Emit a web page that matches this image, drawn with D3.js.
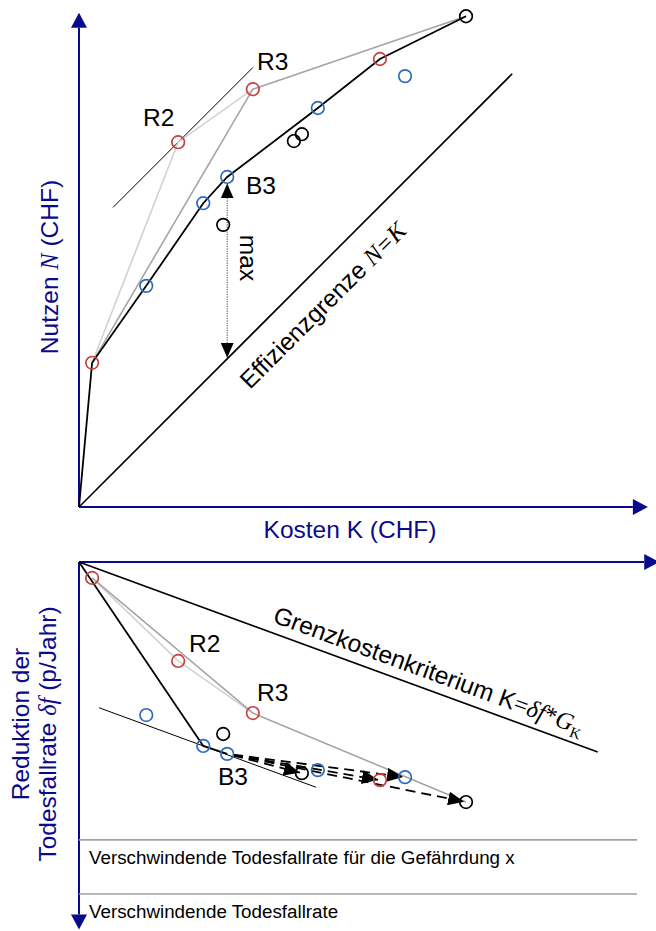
<!DOCTYPE html>
<html>
<head>
<meta charset="utf-8">
<script src="https://cdn.jsdelivr.net/npm/d3@7"></script>
<style>
  body { margin: 0; background: #fff; }
  svg { display: block; }
</style>
</head>
<body>
<svg id="chart" width="656" height="931"></svg>
<script>
// Measures: cost K, benefit N (upper panel), reduction of death rate δf (lower panel,
// as a share of the vanishing rate), and group (R = red, B = blue, K = black)
const measureIds       = ["A", "B", "R2", "C", "D", "B3", "R3", "E", "F", "G", "H", "I", "J"];
const measureCost      = [2.3, 11.8, 17.4, 21.8, 25.3, 26.0, 30.5, 37.7, 39.1, 41.9, 52.8, 57.2, 67.9];
const measureBenefit   = [25.3, 38.8, 64.0, 53.3, 49.5, 57.9, 73.3, 64.2, 65.4, 70.0, 78.6, 75.6, 86.1];
const measureReduction = [0.048, 0.461, 0.298, 0.554, 0.518, 0.578, 0.455, null, 0.636, 0.627, 0.657, 0.648, 0.723];
const measureGroup     = ["R", "B", "R", "B", "K", "B", "R", "K", "K", "B", "R", "B", "K"];

// Paths through the measures
const topFrontier      = ["O", "A", "B", "C", "B3", "G", "H", "J"];
const topLightPath     = ["A", "R2", "R3"];
const topDarkPath      = ["A", "R3", "J"];
const bottomFrontier   = ["O", "C", "B3"];
const bottomLightPath  = ["A", "R2", "R3"];
const bottomDarkPath   = ["A", "R3", "J"];
const shiftFrom        = "B3";
const shiftTargets     = ["F", "H", "I", "J"];

// Reference lines
const efficiencyEnd    = 76;     // N = K drawn up to this cost
const marginalCostGK   = 159;    // G_K: K = δf * G_K
const marginalEnd      = 91;
const hazardVanishing  = 0.837;  // vanishing rate for hazard x
const totalVanishing   = 1.0;    // vanishing rate overall

const svg = d3.select("#chart");
const SANS = "'Liberation Sans', Arial, sans-serif";
const SERIF = "'Liberation Serif', 'Times New Roman', serif";
const NAVY = "#0A0A8C";
const RED = "#C9403E";
const BLUE = "#2E6BBE";
const LIGHT = "#d2d2d2";
const DARK = "#a5a5a5";
const FS = 24.5;
const colorOf = { R: RED, B: BLUE, K: "#000" };

const measures = measureIds.map((id, i) => ({
  id, K: measureCost[i], N: measureBenefit[i], df: measureReduction[i], g: measureGroup[i]
}));
const byId = Object.fromEntries(measures.map(m => [m.id, m]));
byId.O = { id: "O", K: 0, N: 0, df: 0 };

// Scales (same pixels per unit for K and N so that N = K is at 45°)
const x = d3.scaleLinear().domain([0, 100]).range([79, 649]);
const yTop = d3.scaleLinear().domain([0, 100]).range([507, -63]);
const yBot = d3.scaleLinear().domain([0, 1]).range([562, 894]);

const defs = svg.append("defs");
function marker(id, len, half) {
  defs.append("marker")
    .attr("id", id)
    .attr("markerUnits", "userSpaceOnUse")
    .attr("viewBox", `0 ${-half} ${len} ${2 * half}`)
    .attr("refX", len).attr("refY", 0)
    .attr("markerWidth", len).attr("markerHeight", 2 * half)
    .attr("orient", "auto-start-reverse")
    .append("path")
    .attr("d", `M0,${-half}L${len},0L0,${half}Z`)
    .attr("fill", "#000");
}
marker("tip", 15, 6.5);
marker("tipS", 16, 7);

// ---------- axes ----------
function axisArrow(g, x1, y1, x2, y2, len, half) {
  const a = Math.atan2(y2 - y1, x2 - x1);
  const bx = x2 - len * Math.cos(a), by = y2 - len * Math.sin(a);
  g.append("line").attr("x1", x1).attr("y1", y1).attr("x2", bx).attr("y2", by)
    .attr("stroke", NAVY).attr("stroke-width", 2);
  g.append("path")
    .attr("d", `M${x2},${y2}L${bx - half * Math.sin(a)},${by + half * Math.cos(a)}L${bx + half * Math.sin(a)},${by - half * Math.cos(a)}Z`)
    .attr("fill", NAVY);
}
const axes = svg.append("g");
axisArrow(axes, x(0), yTop(0), x(0), yTop(86.7), 15, 8);
axisArrow(axes, x(0), yTop(0), x(99.8), yTop(0), 15, 8);
axisArrow(axes, x(0), yBot(0), x(101.8), yBot(0), 15, 8);
axisArrow(axes, x(0), yBot(0), x(0), yBot(1.107), 15, 8);

// ---------- upper panel ----------
const lineTop = d3.line().x(d => x(byId[d].K)).y(d => yTop(byId[d].N));
const upper = svg.append("g");

// efficiency limit N = K
upper.append("line")
  .attr("x1", x(0)).attr("y1", yTop(0))
  .attr("x2", x(efficiencyEnd)).attr("y2", yTop(efficiencyEnd))
  .attr("stroke", "#000").attr("stroke-width", 1.6);

// tangent through R2 parallel to N = K
const r2 = byId.R2;
upper.append("line")
  .attr("x1", x(5.96)).attr("y1", yTop(r2.N + (5.96 - r2.K)))
  .attr("x2", x(30.5)).attr("y2", yTop(r2.N + (30.5 - r2.K)))
  .attr("stroke", "#000").attr("stroke-width", 1);

upper.append("path").attr("d", lineTop(topLightPath)).attr("fill", "none").attr("stroke", LIGHT).attr("stroke-width", 1.6);
upper.append("path").attr("d", lineTop(topDarkPath)).attr("fill", "none").attr("stroke", DARK).attr("stroke-width", 1.6);
upper.append("path").attr("d", lineTop(topFrontier)).attr("fill", "none").attr("stroke", "#000").attr("stroke-width", 1.8);

// "max" distance between B3 and the efficiency limit
const b3 = byId.B3;
upper.append("line")
  .attr("x1", x(b3.K)).attr("y1", yTop(b3.N) + 6.5)
  .attr("x2", x(b3.K)).attr("y2", yTop(b3.K) - 1)
  .attr("stroke", "#444").attr("stroke-width", 1)
  .attr("stroke-dasharray", "1.2,1.2")
  .attr("marker-start", "url(#tip)")
  .attr("marker-end", "url(#tip)");

upper.selectAll("circle.m").data(measures).join("circle")
  .attr("class", "m")
  .attr("cx", d => x(d.K)).attr("cy", d => yTop(d.N)).attr("r", 6.3)
  .attr("fill", "none").attr("stroke", d => colorOf[d.g]).attr("stroke-width", 1.7);

upper.append("text").attr("x", 143).attr("y", 126).attr("font-family", SANS).attr("font-size", FS).text("R2");
upper.append("text").attr("x", 257).attr("y", 70).attr("font-family", SANS).attr("font-size", FS).text("R3");
upper.append("text").attr("x", 246).attr("y", 194).attr("font-family", SANS).attr("font-size", FS).text("B3");

upper.append("text")
  .attr("transform", "translate(240,258) rotate(90)")
  .attr("text-anchor", "middle")
  .attr("font-family", SANS).attr("font-size", FS).text("max");

const eff = upper.append("text")
  .attr("transform", "translate(250,390) rotate(-45)")
  .attr("font-family", SANS).attr("font-size", FS);
eff.append("tspan").text("Effizienzgrenze ");
eff.append("tspan").attr("font-family", SERIF).attr("font-style", "italic").text("N=K");

upper.append("text").attr("x", 350).attr("y", 538).attr("text-anchor", "middle")
  .attr("font-family", SANS).attr("font-size", FS).attr("fill", NAVY)
  .text("Kosten K (CHF)");

const yl = upper.append("text")
  .attr("transform", "translate(58,267) rotate(-90)")
  .attr("text-anchor", "middle")
  .attr("font-family", SANS).attr("font-size", FS).attr("fill", NAVY);
yl.append("tspan").text("Nutzen ");
yl.append("tspan").attr("font-family", SERIF).attr("font-style", "italic").text("N");
yl.append("tspan").text(" (CHF)");

// ---------- lower panel ----------
const lineBot = d3.line().x(d => x(byId[d].K)).y(d => yBot(byId[d].df));
const lower = svg.append("g");

// vanishing rates
[hazardVanishing, totalVanishing].forEach(v => {
  lower.append("line")
    .attr("x1", x(0)).attr("x2", x(97.9))
    .attr("y1", yBot(v)).attr("y2", yBot(v))
    .attr("stroke", "#a0a0a0").attr("stroke-width", 1.6);
});
lower.append("text").attr("x", 89).attr("y", yBot(hazardVanishing) + 24)
  .attr("font-family", SANS).attr("font-size", 18.8)
  .text("Verschwindende Todesfallrate für die Gefährdung x");
lower.append("text").attr("x", 89).attr("y", yBot(totalVanishing) + 24)
  .attr("font-family", SANS).attr("font-size", 18.8)
  .text("Verschwindende Todesfallrate");

// marginal cost criterion K = δf * G_K
lower.append("line")
  .attr("x1", x(0)).attr("y1", yBot(0))
  .attr("x2", x(marginalEnd)).attr("y2", yBot(marginalEnd / marginalCostGK))
  .attr("stroke", "#000").attr("stroke-width", 1.6);

// tangent through C parallel to the criterion
const c = byId.C;
const tan = k => c.df + (k - c.K) / marginalCostGK;
lower.append("line")
  .attr("x1", x(3.5)).attr("y1", yBot(tan(3.5)))
  .attr("x2", x(41.6)).attr("y2", yBot(tan(41.6)))
  .attr("stroke", "#000").attr("stroke-width", 1);

lower.append("path").attr("d", lineBot(bottomLightPath)).attr("fill", "none").attr("stroke", LIGHT).attr("stroke-width", 1.6);
lower.append("path").attr("d", lineBot(bottomDarkPath)).attr("fill", "none").attr("stroke", DARK).attr("stroke-width", 1.6);
lower.append("path").attr("d", lineBot(bottomFrontier)).attr("fill", "none").attr("stroke", "#000").attr("stroke-width", 1.8);

// shifts of B3 towards later measures
const from = byId[shiftFrom];
shiftTargets.forEach(t => {
  const to = byId[t];
  const x1 = x(from.K), y1 = yBot(from.df), x2 = x(to.K), y2 = yBot(to.df);
  const L = Math.hypot(x2 - x1, y2 - y1);
  const ux = (x2 - x1) / L, uy = (y2 - y1) / L;
  lower.append("line")
    .attr("x1", x1 + ux * 6).attr("y1", y1 + uy * 6)
    .attr("x2", x2 - ux * 2).attr("y2", y2 - uy * 2)
    .attr("stroke", "#000").attr("stroke-width", 1.8)
    .attr("stroke-dasharray", "10,6")
    .attr("marker-end", "url(#tipS)");
});

lower.selectAll("circle.m").data(measures.filter(d => d.df != null)).join("circle")
  .attr("class", "m")
  .attr("cx", d => x(d.K)).attr("cy", d => yBot(d.df)).attr("r", 6.3)
  .attr("fill", "none").attr("stroke", d => colorOf[d.g]).attr("stroke-width", 1.7);

lower.append("text").attr("x", 189).attr("y", 652).attr("font-family", SANS).attr("font-size", FS).text("R2");
lower.append("text").attr("x", 257).attr("y", 701).attr("font-family", SANS).attr("font-size", FS).text("R3");
lower.append("text").attr("x", 218).attr("y", 785).attr("font-family", SANS).attr("font-size", FS).text("B3");

// criterion label along its line
const ang = Math.atan2(yBot(marginalEnd / marginalCostGK) - yBot(0), x(marginalEnd) - x(0));
const k0 = 33.2;
const px0 = x(k0) + 10 * Math.sin(ang), py0 = yBot(k0 / marginalCostGK) - 10 * Math.cos(ang);
const gk = lower.append("text")
  .attr("transform", `translate(${px0},${py0}) rotate(${ang * 180 / Math.PI})`)
  .attr("font-family", SANS).attr("font-size", FS);
gk.append("tspan").text("Grenzkostenkriterium K");
gk.append("tspan").attr("font-family", SERIF).text("=");
gk.append("tspan").attr("font-family", SERIF).attr("font-style", "italic").text("δf");
gk.append("tspan").attr("font-family", SERIF).text("*");
gk.append("tspan").attr("font-family", SERIF).attr("font-style", "italic").text("G");
gk.append("tspan").attr("font-family", SERIF).attr("font-size", 15).attr("dy", 5).text("K");

lower.append("text")
  .attr("transform", "translate(29,724) rotate(-90)")
  .attr("text-anchor", "middle")
  .attr("font-family", SANS).attr("font-size", FS).attr("fill", NAVY)
  .text("Reduktion der");
const yb2 = lower.append("text")
  .attr("transform", "translate(56,734) rotate(-90)")
  .attr("text-anchor", "middle")
  .attr("font-family", SANS).attr("font-size", FS).attr("fill", NAVY);
yb2.append("tspan").text("Todesfallrate ");
yb2.append("tspan").attr("font-family", SERIF).attr("font-style", "italic").text("δf");
yb2.append("tspan").text(" (p/Jahr)");
</script>
</body>
</html>
